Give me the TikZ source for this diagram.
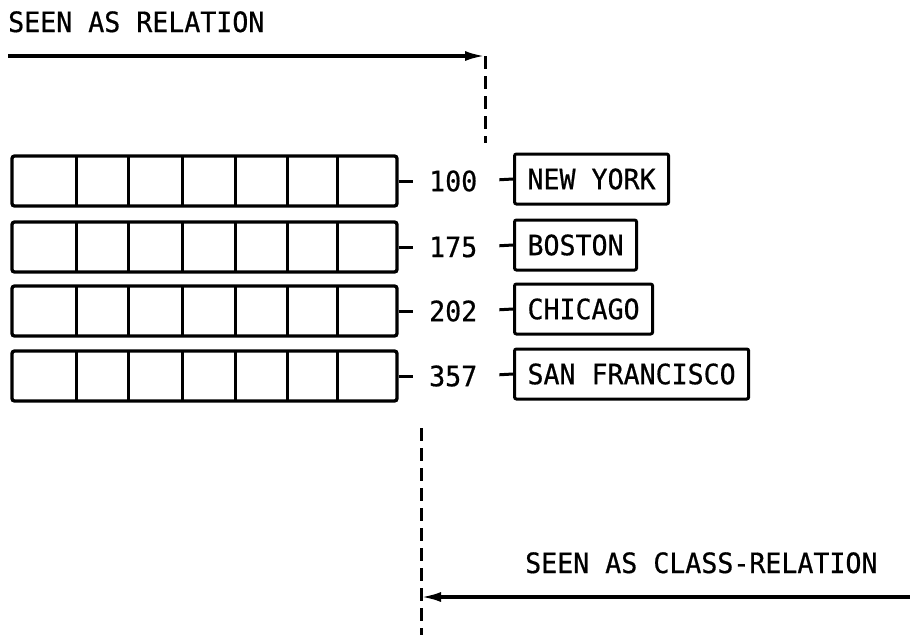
\documentclass[tikz,border=0pt]{standalone}
\usepackage{fontspec}
\newfontfamily\lblfont[FakeStretch=0.95,FakeBold=0.6]{DejaVu Sans Mono}
\usetikzlibrary{arrows.meta}
\begin{document}
\begin{tikzpicture}[x=1pt,y=-1pt,
  lbl/.style={font=\lblfont\fontsize{28}{32}\selectfont, inner sep=0pt},
  rec/.style={draw, line width=3.3pt, rounded corners=2.5pt, minimum width=385pt, minimum height=50pt, inner sep=0pt},
  div/.style={line width=3pt},
  tick/.style={line width=3pt},
  num/.style={lbl, anchor=west},
  city/.style={lbl, draw, line width=3pt, rounded corners=2pt, anchor=west, inner xsep=13pt, inner ysep=0pt,
    text height=20.4pt, text depth=0pt, minimum height=50pt},
  arr/.style={line width=3.2pt, -{Latex[length=20pt,width=10pt]}},
  dashline/.style={line width=3pt, dash pattern=on 13pt off 7pt}]
\useasboundingbox (0,0) rectangle (910,635);

\node[lbl, anchor=base west] (t1) at (8,32) {SEEN AS RELATION};
\coordinate (ta) at (8,56);
\coordinate (tb) at (485,56);
\coordinate (tc) at (485,143);
\draw[arr] (ta) -- (tb);
\draw[dashline] (tb) -- (tc);

\foreach \i/\y/\n/\c in {1/181/100/NEW YORK, 2/247/175/BOSTON, 3/311/202/CHICAGO, 4/376/357/SAN FRANCISCO} {
  \node[rec] (r\i) at (204.5,\y) {};
  \foreach \x in {76,128,182,235,287,337} \draw[div] (\x,\y-25) -- (\x,\y+25);
  \node[num] (n\i) at (429,\y) {\n};
  \node[city] (c\i) at (513,\y-2) {\c};
  \draw[tick, shorten >=16pt] (r\i.east) -- (n\i.west);
  \draw[tick, shorten <=22pt] (n\i.east) -- (c\i.west);
}

\node[lbl, anchor=base west] (t2) at (525,573) {SEEN AS CLASS-RELATION};
\coordinate (ba) at (910,597);
\coordinate (bb) at (421,597);
\coordinate (bc) at (421,428);
\coordinate (bd) at (421,635);
\draw[arr] (ba) -- (bb);
\draw[dashline] (bc) -- (bd);
\end{tikzpicture}
\end{document}
